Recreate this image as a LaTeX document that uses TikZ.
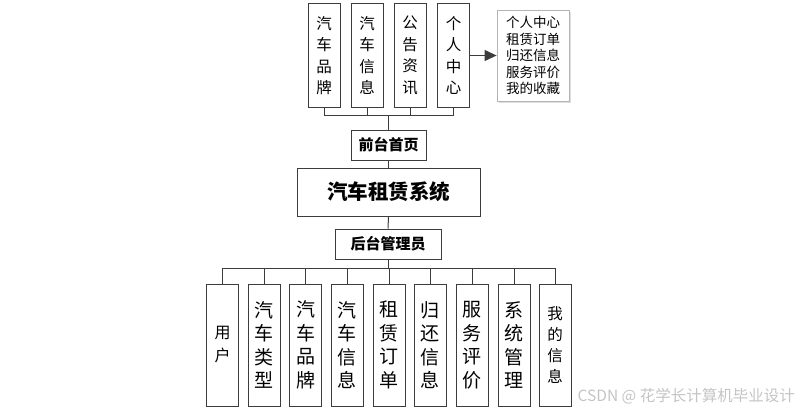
\documentclass[tikz,border=0pt]{standalone}
\usepackage{fontspec}
\setmainfont{Noto Sans CJK SC}
\usepackage{xcolor}
\usetikzlibrary{arrows.meta}
\usetikzlibrary{shadows}

\definecolor{boxline}{HTML}{3C3C3C}
\definecolor{listline}{HTML}{B4B4B4}
\definecolor{mark}{HTML}{C4C4C4}

\tikzset{
    vbox/.style={draw=boxline, fill=white, line width=1pt, minimum width=32pt, inner sep=0pt, align=center},
    topbox/.style={vbox, minimum height=103pt, font=\fontsize{15.5}{21.5}\selectfont},
    lowbox/.style={vbox, minimum height=122pt, font=\fontsize{19}{23.5}\selectfont},
    hbox/.style={draw=boxline, fill=white, line width=1pt, inner sep=0pt, font=\bfseries\fontsize{15}{17}\selectfont},
    link/.style={draw=boxline, line width=1pt}
}

\begin{document}
\begin{tikzpicture}[x=1pt, y=-1pt]
    \useasboundingbox (0,0) rectangle (806,412);
    %Front pages
    \node [topbox] (brand) at (324,55.5) {汽\\车\\品\\牌};
    \node [topbox] (car) at (367,55.5) {汽\\车\\信\\息};
    \node [topbox] (news) at (410,55.5) {公\\告\\资\\讯};
    \node [topbox] (home) at (453.5,55.5) {个\\人\\中\\心};
    \node [draw=listline, fill=white, line width=0.8pt, minimum width=72pt, minimum height=91pt, inner sep=0pt, align=left,
        font=\fontsize{13.5}{16.5}\selectfont, drop shadow={opacity=0.25, shadow xshift=2pt, shadow yshift=-2pt}]
        (menu) at (533,55.5) {个人中心\\租赁订单\\归还信息\\服务评价\\我的收藏};
    \draw [link, -{Triangle[length=12pt, width=11pt]}] (home.east) -- (menu.west);

    \node [hbox, minimum width=75pt, minimum height=30pt] (front) at (388.5,145) {前台首页};
    \draw [link] (front.north) -- ++(0,-14) -| (brand.south);
    \draw [link] (front.north) -- ++(0,-14) -| (car.south);
    \draw [link] (front.north) -- ++(0,-14) -| (news.south);
    \draw [link] (front.north) -- ++(0,-14) -| (home.south);

    %System
    \node [hbox, minimum width=183pt, minimum height=48pt, font=\bfseries\fontsize{20.5}{22}\selectfont] (sys) at (388.5,192) {汽车租赁系统};
    \draw [link] (front.south) -- (sys.north);

    %Admin
    \node [hbox, minimum width=106pt, minimum height=30pt] (admin) at (388,244) {后台管理员};
    \draw [link] (sys.south) -- (admin.north);

    \node [lowbox, font=\fontsize{16}{23}\selectfont] (user) at (222.5,345) {用\\户};
    \node [lowbox] (type) at (264,345) {汽\\车\\类\\型};
    \node [lowbox] (abrand) at (305.5,345) {汽\\车\\品\\牌};
    \node [lowbox] (acar) at (347,345) {汽\\车\\信\\息};
    \node [lowbox] (order) at (389,345) {租\\赁\\订\\单};
    \node [lowbox] (back) at (430,345) {归\\还\\信\\息};
    \node [lowbox] (review) at (472,345) {服\\务\\评\\价};
    \node [lowbox] (manage) at (514,345) {系\\统\\管\\理};
    \node [lowbox, font=\fontsize{15.5}{21}\selectfont] (mine) at (555,345) {我\\的\\信\\息};

    \draw [link] (admin.south) -- ++(0,9) -| (user.north);
    \draw [link] (admin.south) -- ++(0,9) -| (type.north);
    \draw [link] (admin.south) -- ++(0,9) -| (abrand.north);
    \draw [link] (admin.south) -- ++(0,9) -| (acar.north);
    \draw [link] (admin.south) -- ++(0,9) -| (order.north);
    \draw [link] (admin.south) -- ++(0,9) -| (back.north);
    \draw [link] (admin.south) -- ++(0,9) -| (review.north);
    \draw [link] (admin.south) -- ++(0,9) -| (manage.north);
    \draw [link] (admin.south) -- ++(0,9) -| (mine.north);

    %Watermark
    \node [anchor=east, text=mark, inner sep=0pt, font=\fontsize{15.5}{17}\selectfont] (wm) at (795,396) {CSDN @ 花学长计算机毕业设计};
\end{tikzpicture}
\end{document}
